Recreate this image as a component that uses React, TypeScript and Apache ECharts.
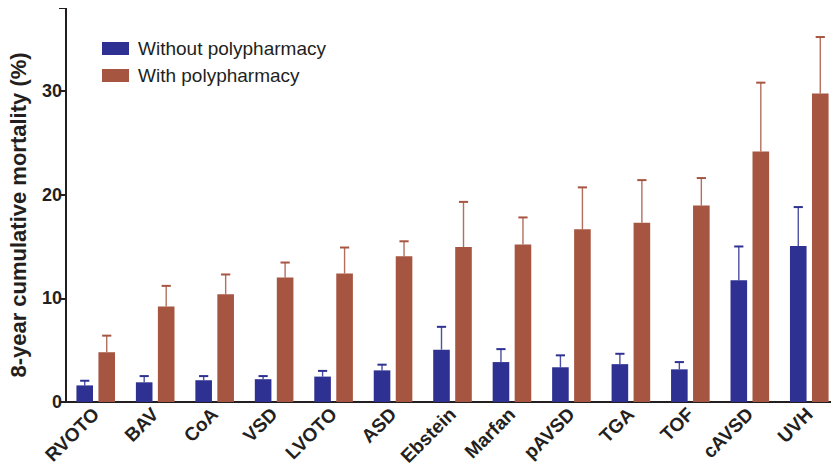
import React, { useEffect, useRef } from "react";
import * as echarts from "echarts";

// Congenital heart defect groups
const categories = [
  "RVOTO", "BAV", "CoA", "VSD", "LVOTO", "ASD", "Ebstein",
  "Marfan", "pAVSD", "TGA", "TOF", "cAVSD", "UVH",
];

// 8-year cumulative mortality (%) and upper error bounds
const withoutPoly = [1.6, 1.9, 2.1, 2.2, 2.45, 3.05, 5.05, 3.85, 3.35, 3.65, 3.15, 11.75, 15.05];
const withoutPolyUpper = [2.05, 2.5, 2.5, 2.5, 3.0, 3.6, 7.25, 5.1, 4.5, 4.65, 3.85, 15.0, 18.8];
const withPoly = [4.8, 9.2, 10.4, 12.0, 12.4, 14.05, 14.95, 15.2, 16.65, 17.3, 18.95, 24.15, 29.75];
const withPolyUpper = [6.4, 11.2, 12.3, 13.45, 14.9, 15.5, 19.3, 17.8, 20.7, 21.4, 21.6, 30.8, 35.2];

const yTicks = [0, 10, 20, 30];

const BLUE = "#2E3192";
const RED = "#A65541";
const INK = "#231F20";
const FONT = "'Liberation Sans', Arial, Helvetica, sans-serif";

const BAR_W = 16.6;
const BAR_GAP_PX = 5.4;
const HALF_STEP = (BAR_W + BAR_GAP_PX) / 2;

function errorSeries(name: string, upper: number[], base: number[], color: string, dir: number) {
  return {
    type: "custom",
    name: name + " error",
    silent: true,
    z: 3,
    data: upper.map((u, i) => [i, base[i], u]),
    renderItem: (params: any, api: any) => {
      const idx = api.value(0);
      const low = api.coord([idx, api.value(1)]);
      const high = api.coord([idx, api.value(2)]);
      const x = low[0] + dir * HALF_STEP;
      const capHalf = 4.6;
      return {
        type: "group",
        children: [
          {
            type: "line",
            shape: { x1: x, y1: low[1], x2: x, y2: high[1] },
            style: { stroke: color, lineWidth: 1.4, opacity: 0.85 },
          },
          {
            type: "line",
            shape: { x1: x - capHalf, y1: high[1], x2: x + capHalf, y2: high[1] },
            style: { stroke: color, lineWidth: 2 },
          },
        ],
      };
    },
  };
}

export default function App() {
  const ref = useRef<HTMLDivElement>(null);

  useEffect(() => {
    if (!ref.current) return;
    const chart = echarts.init(ref.current, null, { renderer: "svg" });
    chart.setOption({
      animation: false,
      backgroundColor: "#ffffff",
      textStyle: { fontFamily: FONT },
      grid: { left: 66, top: 8, width: 777, bottom: 73, containLabel: false },
      legend: {
        orient: "vertical",
        left: 97,
        top: 34,
        itemWidth: 27,
        itemHeight: 13,
        itemGap: 8,
        icon: "rect",
        data: ["Without polypharmacy", "With polypharmacy"],
        textStyle: { fontSize: 19, color: INK, fontFamily: FONT, padding: [0, 0, 0, 4] },
        selectedMode: false,
      },
      xAxis: {
        type: "category",
        data: categories,
        boundaryGap: true,
        axisLine: { lineStyle: { color: INK, width: 2 } },
        axisTick: { alignWithLabel: true, length: 6, lineStyle: { color: INK, width: 2 } },
        axisLabel: {
          rotate: 45,
          margin: 9,
          fontSize: 19,
          fontWeight: "bold",
          color: INK,
          fontFamily: FONT,
          interval: 0,
        },
      },
      yAxis: {
        type: "value",
        min: 0,
        max: 38,
        interval: 10,
        splitLine: { show: false },
        axisLine: { show: true, lineStyle: { color: INK, width: 2 } },
        axisTick: { show: true, length: 7, lineStyle: { color: INK, width: 2 } },
        axisLabel: {
          margin: 4,
          fontSize: 18,
          fontWeight: "bold",
          color: INK,
          fontFamily: FONT,
          formatter: (v: number) => (yTicks.includes(v) ? String(v) : ""),
        },
      },
      graphic: [
        {
          type: "text",
          x: 18.5,
          y: 215,
          rotation: Math.PI / 2,
          style: {
            text: "8-year cumulative mortality (%)",
            fontSize: 22,
            fontWeight: "bold",
            fontFamily: FONT,
            fill: INK,
            align: "center",
            verticalAlign: "middle",
          },
        },
      ],
      series: [
        {
          name: "Without polypharmacy",
          type: "bar",
          data: withoutPoly,
          barWidth: BAR_W,
          barGap: (BAR_GAP_PX / BAR_W) * 100 + "%",
          itemStyle: { color: BLUE },
          z: 2,
        },
        {
          name: "With polypharmacy",
          type: "bar",
          data: withPoly,
          barWidth: BAR_W,
          barGap: (BAR_GAP_PX / BAR_W) * 100 + "%",
          itemStyle: { color: RED },
          z: 2,
        },
        errorSeries("Without polypharmacy", withoutPolyUpper, withoutPoly, BLUE, -1),
        errorSeries("With polypharmacy", withPolyUpper, withPoly, RED, 1),
      ],
    });
    return () => chart.dispose();
  }, []);

  return <div ref={ref} style={{ width: 839, height: 475, marginLeft: -8, marginTop: -8 }} />;
}
